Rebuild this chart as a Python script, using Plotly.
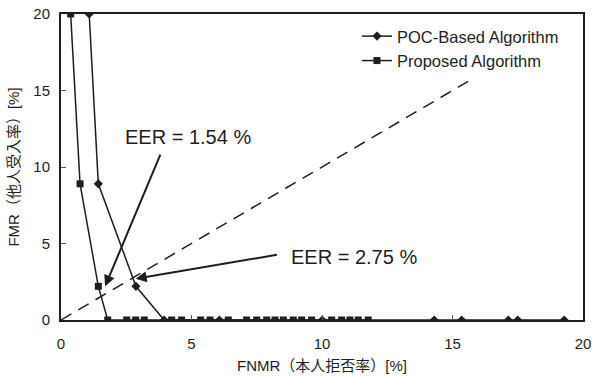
import plotly.graph_objects as go

# FNMR / FMR operating points (%) for each matcher
poc_fnmr = [1.08, 1.43, 2.87, 3.95, 6.07, 10.01, 14.30, 15.35, 17.14, 17.50, 19.28]
poc_fmr = [20.0, 8.9, 2.2, 0, 0, 0, 0, 0, 0, 0, 0]

prop_fnmr = [0.37, 0.73, 1.43, 1.79, 2.52, 2.86, 3.19, 4.24, 4.62, 5.35, 5.71, 6.41,
             7.11, 7.50, 7.88, 8.20, 8.52, 8.90, 9.22, 9.60, 10.37, 10.75, 11.07,
             11.39, 11.77]
prop_fmr = [20.0, 8.9, 2.2] + [0] * 22

# FMR = FNMR reference line
eer_line = [0, 15.8]

# EER callouts: (label, text x, text y, arrow tail x, tail y, head x, head y)
eer_labels = ["EER = 1.54 %", "EER = 2.75 %"]
eer_text_xy = [(4.88, 11.95), (8.75, 4.15)]
eer_arrow_tail = [(3.83, 10.9), (8.33, 4.28)]
eer_arrow_head = [(1.69, 2.2), (2.86, 2.7)]

tick_vals = [0, 5, 10, 15, 20]

FONT = "Liberation Sans, Arial, Noto Sans CJK JP, sans-serif"
INK = "#1e1e1e"

fig = go.Figure()

fig.add_trace(go.Scatter(
    x=eer_line, y=eer_line, mode="lines", showlegend=False,
    line=dict(color=INK, width=1.5, dash="12px,8px"), hoverinfo="skip"))

fig.add_trace(go.Scatter(
    x=poc_fnmr, y=poc_fmr, mode="lines+markers", name="POC-Based Algorithm",
    legendgroup="poc",
    line=dict(color=INK, width=1.5),
    marker=dict(symbol="diamond", size=7, color=INK)))

fig.add_trace(go.Scatter(
    x=prop_fnmr, y=prop_fmr, mode="lines+markers", name="Proposed Algorithm",
    legendgroup="prop",
    line=dict(color=INK, width=1.5),
    marker=dict(symbol="square", size=7, color=INK)))

for (lbl, (tx, ty), (ax, ay), (hx, hy)) in zip(eer_labels, eer_text_xy,
                                                 eer_arrow_tail, eer_arrow_head):
    fig.add_annotation(x=hx, y=hy, ax=ax, ay=ay, xref="x", yref="y",
                       axref="x", ayref="y", text="", showarrow=True,
                       arrowhead=2, arrowsize=1.1, arrowwidth=2,
                       arrowcolor=INK, standoff=0, startstandoff=0)
    fig.add_annotation(x=tx, y=ty, xref="x", yref="y", text=lbl,
                       showarrow=False,
                       xanchor="center" if lbl.endswith("1.54 %") else "left",
                       yanchor="middle",
                       font=dict(family=FONT, size=20, color=INK))

axis_common = dict(
    range=[0, 20], tickvals=tick_vals, ticks="inside", ticklen=5,
    tickcolor="#555", tickwidth=1, showgrid=False, zeroline=False,
    showline=True, linecolor=INK, linewidth=2, mirror=True, automargin=False,
    tickfont=dict(family=FONT, size=15, color=INK))

fig.update_xaxes(**axis_common, ticklabelstandoff=9,
                 title=dict(text="FNMR（本人拒否率）[%]", standoff=9,
                            font=dict(family=FONT, size=15, color=INK)))
fig.update_yaxes(**axis_common, ticklabelstandoff=6,
                 title=dict(text="FMR（他人受入率）[%]", standoff=10,
                            font=dict(family=FONT, size=15, color=INK)))

fig.update_layout(
    width=592, height=378,
    margin=dict(l=61, r=9, t=14, b=58),
    paper_bgcolor="white", plot_bgcolor="white",
    font=dict(family=FONT, color=INK),
    legend=dict(x=0.567, y=0.984, xanchor="left", yanchor="top",
                bgcolor="rgba(0,0,0,0)", tracegroupgap=0, itemwidth=30,
                font=dict(family=FONT, size=16.5, color=INK)),
)

fig.write_html("out.html")
